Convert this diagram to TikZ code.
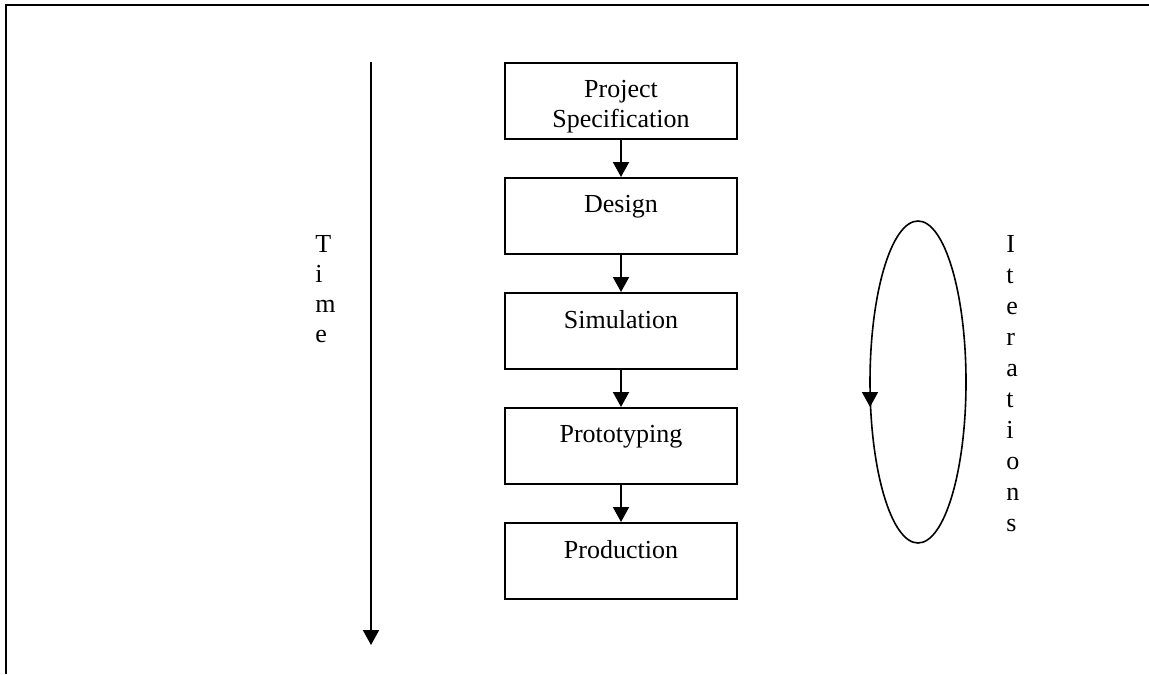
\documentclass[tikz,border=0pt]{standalone}
\usepackage{fontspec}
\setmainfont{Liberation Serif}
\usepackage{tikz}
\usetikzlibrary{arrows.meta}
\tikzset{
  stage/.style={draw, line width=1pt, minimum width=116pt, minimum height=38pt, inner sep=0pt},
  stagetext/.style={anchor=north, align=center, inner sep=0pt, yshift=-9pt},
  vword/.style={anchor=north west, align=left, inner sep=0pt},
  flow/.style={line width=1pt, -{Triangle[width=8pt,length=7.5pt]}}
}

\begin{document}
\begin{tikzpicture}[x=0.5pt, y=-0.5pt,
  % Times-like text, as in the original
  font=\fontsize{13}{15}\selectfont]
\useasboundingbox (0,0) rectangle (1149,674);

% frame (top and left sides only)
\draw[line width=1pt] (6,674) -- (6,5) -- (1149,5);

% the stages
\foreach \n/\y in {spec/101,design/216,sim/331,proto/446,prod/561} {
  \node[stage] (\n) at (621,\y) {};
}
\node[stagetext] (spec-t) at (spec.north) {Project\\Specification};
\node[stagetext] (design-t) at (design.north) {Design};
\node[stagetext] (sim-t) at (sim.north) {Simulation};
\node[stagetext] (proto-t) at (proto.north) {Prototyping};
\node[stagetext] (prod-t) at (prod.north) {Production};

\foreach \a/\b in {spec/design,design/sim,sim/proto,proto/prod} {
  \draw[flow] (\a.south) -- (\b.north);
}

% time axis
\coordinate (t0) at (371,62);
\coordinate (t1) at (371,645);
\draw[flow] (t0) -- (t1);
\node[vword] (time) at (315,235) {T\\i\\m\\e};

% iteration loop
\coordinate (loop) at (918,382);
\draw[line width=0.8pt] (loop) ellipse [x radius=24pt, y radius=80.5pt];
\coordinate (l0) at (870,392);
\coordinate (l1) at (870,407);
\draw[flow, line width=0.8pt] (l0) -- (l1);
\node[vword, font=\fontsize{13}{15.5}\selectfont] (iter) at (1006,235)
  {I\\t\\e\\r\\a\\t\\i\\o\\n\\s};
\end{tikzpicture}
\end{document}
